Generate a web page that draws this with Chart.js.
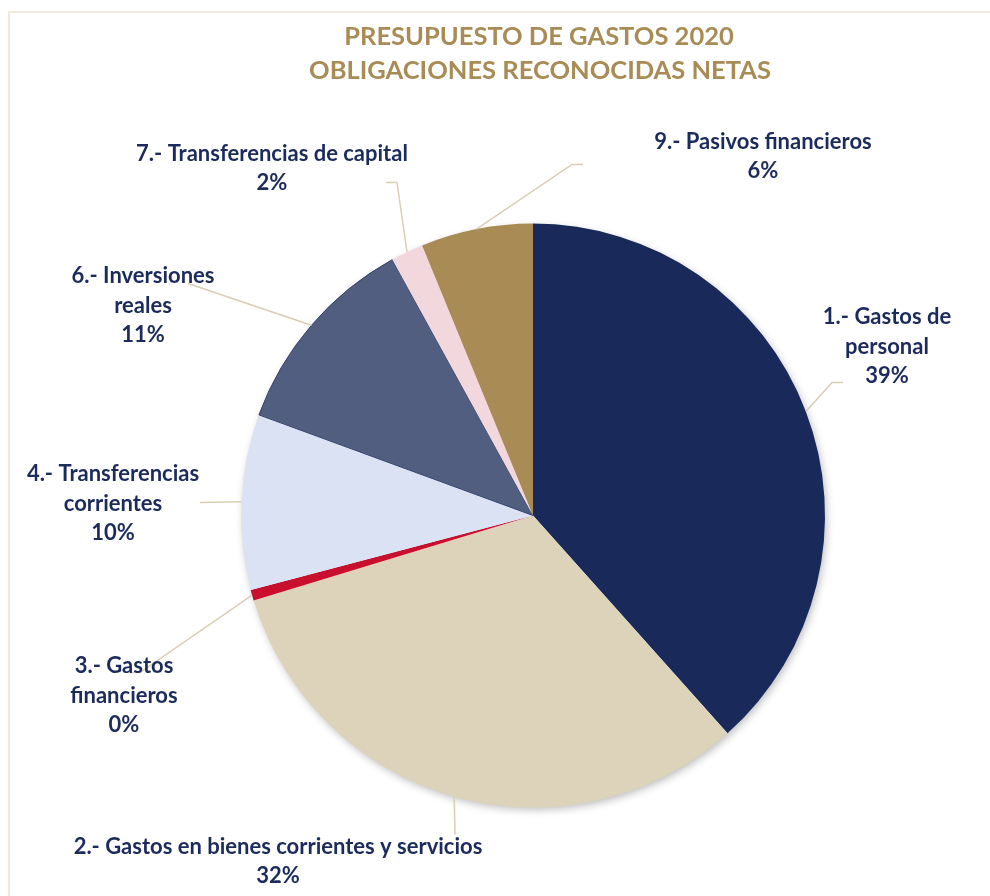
<!DOCTYPE html>
<html>
<head>
<meta charset="utf-8">
<script src="https://cdn.jsdelivr.net/npm/chart.js@4.4.1/dist/chart.umd.min.js"></script>
<style>
  html, body { margin: 0; padding: 0; background: #fff; }
  #wrap { position: relative; width: 990px; height: 896px; }
</style>
</head>
<body>
<div id="wrap"><canvas id="pie" width="990" height="896"></canvas></div>
<script>
// Data (share of total, %)
const categories = [
    '1.- Gastos de personal',
    '2.- Gastos en bienes corrientes y servicios',
    '3.- Gastos financieros',
    '4.- Transferencias corrientes',
    '6.- Inversiones reales',
    '7.- Transferencias de capital',
    '9.- Pasivos financieros'
];
const values = [38.4, 31.9, 0.6, 9.7, 11.4, 1.8, 6.2];
const shownPct = ['39%', '32%', '0%', '10%', '11%', '2%', '6%'];
// How each label is broken into lines
const labelLines = [
    ['1.- Gastos de', 'personal'],
    ['2.- Gastos en bienes corrientes y servicios'],
    ['3.- Gastos', 'financieros'],
    ['4.- Transferencias', 'corrientes'],
    ['6.- Inversiones', 'reales'],
    ['7.- Transferencias de capital'],
    ['9.- Pasivos financieros']
];
const titleLines = ['PRESUPUESTO DE GASTOS 2020', 'OBLIGACIONES RECONOCIDAS NETAS'];

const sliceColors = ['#192a5a', '#ddd3bb', '#c8102e', '#dbe2f4', '#525e7f', '#f2d8dc', '#a88b55'];
const navy = '#1b2b5b';
const gold = '#a88b55';
const leaderColor = '#d8ceb4';

// label placement, px relative to pie centre: text block centre + leader bends
const labelLayout = [
    { text: [354, -169], leader: [[299, -133], [310, -133]] },
    { text: [-255, 346], leader: [[-78, 319]] },
    { text: [-409, 180], leader: [[-393, 157], [-405, 157]] },
    { text: [-420, -12], leader: [[-333, -13]] },
    { text: [-390, -210], leader: [[-345, -232]] },
    { text: [-261, -347], leader: [[-136, -333], [-147, -333]] },
    { text: [230, -359], leader: [[39, -351], [50, -351]] }
];

const FONT = 'Lato, "Open Sans", sans-serif';

const framePlugin = {
    id: 'frame',
    beforeDraw(chart) {
        const ctx = chart.ctx;
        ctx.save();
        ctx.strokeStyle = '#efeadb';
        ctx.lineWidth = 2;
        ctx.beginPath();
        ctx.moveTo(9, 900);
        ctx.lineTo(9, 12);
        ctx.lineTo(1000, 12);
        ctx.stroke();
        // title
        ctx.fillStyle = gold;
        ctx.font = 'bold 25.5px ' + FONT;
        ctx.textAlign = 'center';
        ctx.textBaseline = 'middle';
        ctx.fillText(titleLines[0], 539, 37);
        ctx.fillText(titleLines[1], 540, 71);
        ctx.restore();
    },
    beforeDatasetsDraw(chart) {
        // soft shadow behind the pie
        const arc = chart.getDatasetMeta(0).data[0];
        if (!arc) return;
        const ctx = chart.ctx;
        ctx.save();
        ctx.shadowColor = 'rgba(0,0,0,0.28)';
        ctx.shadowBlur = 9;
        ctx.shadowOffsetX = 2;
        ctx.shadowOffsetY = 3;
        ctx.fillStyle = '#fff';
        ctx.beginPath();
        ctx.arc(arc.x, arc.y, arc.outerRadius - 1, 0, Math.PI * 2);
        ctx.fill();
        ctx.restore();
    }
};

const labelPlugin = {
    id: 'sliceLabels',
    afterDatasetsDraw(chart) {
        const ctx = chart.ctx;
        const arcs = chart.getDatasetMeta(0).data;
        ctx.save();
        arcs.forEach((arc, i) => {
            const mid = (arc.startAngle + arc.endAngle) / 2;
            const cx = arc.x, cy = arc.y;
            const ax = cx + Math.cos(mid) * arc.outerRadius;
            const ay = cy + Math.sin(mid) * arc.outerRadius;
            const lay = labelLayout[i];

            ctx.strokeStyle = leaderColor;
            ctx.lineWidth = 1.5;
            ctx.beginPath();
            ctx.moveTo(ax, ay);
            lay.leader.forEach(p => ctx.lineTo(cx + p[0], cy + p[1]));
            ctx.stroke();

            const lines = labelLines[i].concat([shownPct[i]]);
            const lh = 29.5;
            const tx = cx + lay.text[0];
            const ty = cy + lay.text[1] - (lines.length - 1) * lh / 2;
            ctx.fillStyle = navy;
            ctx.font = 'bold 22px ' + FONT;
            ctx.textAlign = 'center';
            ctx.textBaseline = 'middle';
            lines.forEach((t, k) => ctx.fillText(t, tx, ty + k * lh));
        });
        ctx.restore();
    }
};

new Chart(document.getElementById('pie'), {
    type: 'pie',
    data: {
        labels: categories,
        datasets: [{
            data: values,
            backgroundColor: sliceColors,
            borderColor: ['#192a5a', '#ddd3bb', '#c8102e', '#dbe2f4', '#34446f', '#f2d8dc', '#a88b55'],
            borderWidth: [0, 0, 0, 0, 1, 0, 0],
            hoverOffset: 0
        }]
    },
    options: {
        responsive: false,
        animation: false,
        layout: { padding: { top: 223, bottom: 88, left: 200, right: 124 } },
        plugins: {
            legend: { display: false },
            title: { display: false },
            tooltip: { enabled: false }
        }
    },
    plugins: [framePlugin, labelPlugin]
});
</script>
</body>
</html>
